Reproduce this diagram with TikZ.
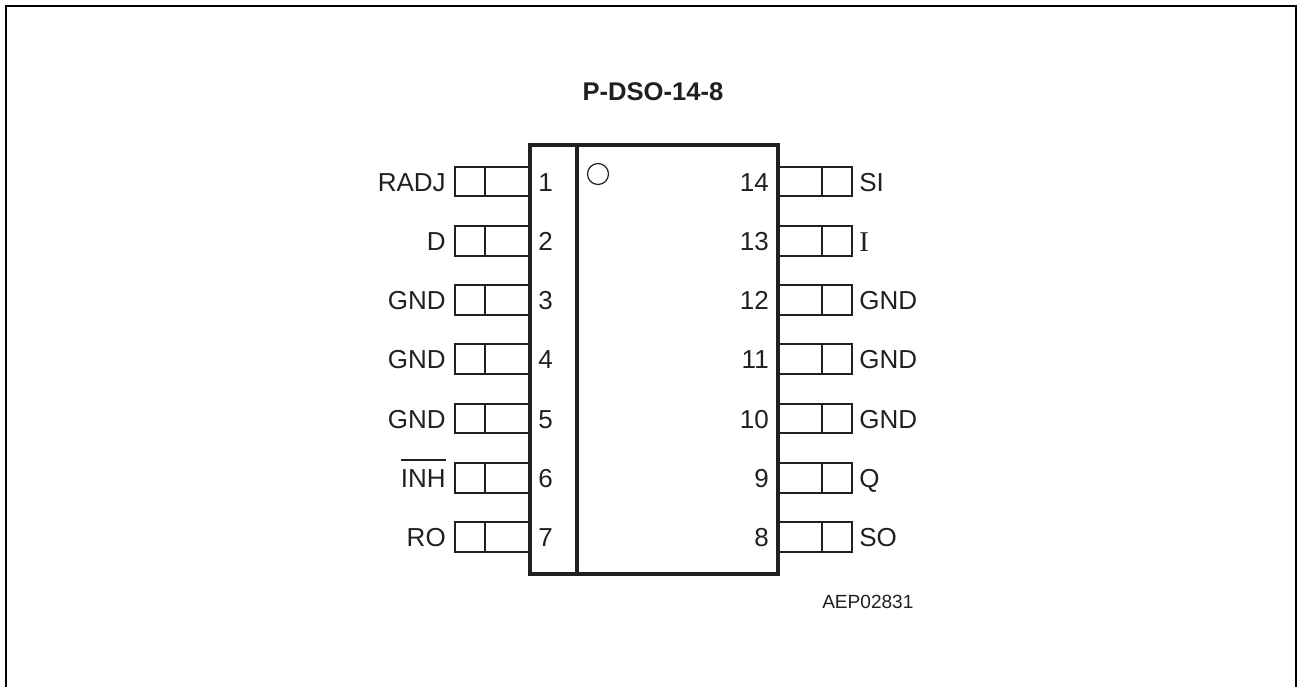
\documentclass[tikz,border=0pt]{standalone}
\usepackage{fontspec}
\setmainfont{Liberation Sans}
\newfontfamily\serifI{Liberation Serif}
\definecolor{ink}{HTML}{231F20}
\tikzset{
  pinbox/.style={draw=ink, line width=1.5pt},
  chipline/.style={draw=ink, line width=2.8pt},
  pinname/.style={inner sep=0pt, text=ink, font=\fontsize{19.5}{23}\selectfont},
  pinleft/.style={pinname, anchor=base east},
  pinright/.style={pinname, anchor=base west},
}
\begin{document}
\begin{tikzpicture}[x=0.75pt, y=-0.75pt]
\useasboundingbox (0,0) rectangle (1297,687);
\draw[line width=1.5pt] (6,687) -- (6,6) -- (1296,6) -- (1296,687);
\node[inner sep=0pt, font=\bfseries\fontsize{19.2}{23}\selectfont, text=ink] (title) at (653,92) {P-DSO-14-8};
% left pins
\draw[pinbox] (455,167) rectangle (530,196) (485,167) -- (485,196);
\draw[pinbox] (455,226) rectangle (530,256) (485,226) -- (485,256);
\draw[pinbox] (455,285) rectangle (530,315) (485,285) -- (485,315);
\draw[pinbox] (455,344) rectangle (530,374) (485,344) -- (485,374);
\draw[pinbox] (455,404) rectangle (530,433) (485,404) -- (485,433);
\draw[pinbox] (455,463) rectangle (530,493) (485,463) -- (485,493);
\draw[pinbox] (455,522) rectangle (530,552) (485,522) -- (485,552);
% right pins
\draw[pinbox] (778,167) rectangle (852,196) (822,167) -- (822,196);
\draw[pinbox] (778,226) rectangle (852,256) (822,226) -- (822,256);
\draw[pinbox] (778,285) rectangle (852,315) (822,285) -- (822,315);
\draw[pinbox] (778,344) rectangle (852,374) (822,344) -- (822,374);
\draw[pinbox] (778,404) rectangle (852,433) (822,404) -- (822,433);
\draw[pinbox] (778,463) rectangle (852,493) (822,463) -- (822,493);
\draw[pinbox] (778,522) rectangle (852,552) (822,522) -- (822,552);
% package body
\draw[chipline] (530,145) rectangle (778,574);
\draw[chipline] (577,145) -- (577,574);
\draw[ink, line width=0.9pt] (598,174) circle (10.5);
% names
\node[pinleft] (radj) at (446,191) {RADJ};
\node[pinleft] (d) at (446,250) {D};
\node[pinleft] (gnda) at (446,309.5) {GND};
\node[pinleft] (gndb) at (446,368.5) {GND};
\node[pinleft] (gndc) at (446,428) {GND};
\node[pinleft] (inh) at (446,487) {INH};
\node[pinleft] (ro) at (446,546) {RO};
\draw[ink, line width=1.5pt] ([yshift=7pt]inh.north west) -- ([yshift=7pt]inh.north east);
\node[pinright] (si) at (859,191) {SI};
\node[pinright] (i) at (859,251) {\serifI\fontsize{21.5}{23}\selectfont I};
\node[pinright] (gndd) at (859,309.5) {GND};
\node[pinright] (gnde) at (859,368.5) {GND};
\node[pinright] (gndf) at (859,428) {GND};
\node[pinright] (q) at (859,487) {Q};
\node[pinright] (so) at (859,546) {SO};
% numbers
\node[pinright] (n1) at (538,191) {1};
\node[pinright] (n2) at (538,250) {2};
\node[pinright] (n3) at (538,309.5) {3};
\node[pinright] (n4) at (538,368.5) {4};
\node[pinright] (n5) at (538,428) {5};
\node[pinright] (n6) at (538,487) {6};
\node[pinright] (n7) at (538,546) {7};
\node[pinleft] (n14) at (769,191) {14};
\node[pinleft] (n13) at (769,250) {13};
\node[pinleft] (n12) at (769,309.5) {12};
\node[pinleft] (n11) at (769,368.5) {11};
\node[pinleft] (n10) at (769,428) {10};
\node[pinleft] (n9) at (769,487) {9};
\node[pinleft] (n8) at (769,546) {8};
\node[inner sep=0pt, anchor=base west, text=ink, font=\fontsize{14.3}{17}\selectfont] (code) at (822,608) {AEP02831};
\end{tikzpicture}
\end{document}
